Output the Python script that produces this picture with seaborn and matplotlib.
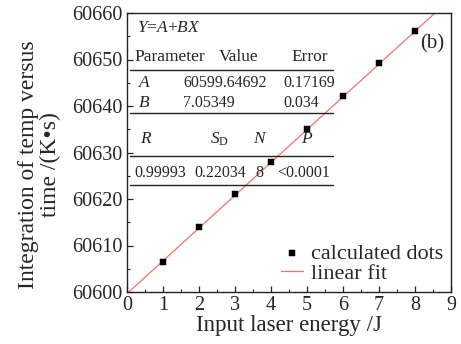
import numpy as np
import pandas as pd
import matplotlib
matplotlib.use('Agg')
import matplotlib.pyplot as plt
import seaborn as sns
from matplotlib.ticker import MultipleLocator

# データ
energy = [1, 2, 3, 4, 5, 6, 7, 8]
integral = [60606.5, 60614.0, 60621.0, 60628.0, 60635.0, 60642.2, 60649.2, 60656.2]
fit_a = 60599.64692
fit_b = 7.05349
fit_x = [0, 9]

param_rows = [('A', '60599.64692', '0.17169'), ('B', '7.05349', '0.034')]
stat_names = ['R', 'S', 'N', 'P']
stat_values = ['0.99993', '0.22034', '8', '<0.0001']

sns.set_theme(style='ticks')
plt.rcParams['font.family'] = ['Liberation Serif', 'DejaVu Serif']
plt.rcParams['mathtext.fontset'] = 'custom'
plt.rcParams['mathtext.it'] = 'Liberation Serif:italic'
plt.rcParams['mathtext.rm'] = 'Liberation Serif'

df = pd.DataFrame({'x': energy, 'y': integral})
fit_df = pd.DataFrame({'x': fit_x, 'y': [fit_a + fit_b * v for v in fit_x]})

fig = plt.figure(figsize=(4.61, 3.44), dpi=100)
ax = fig.add_axes([127 / 461, 1 - 292 / 344, 324 / 461, 279 / 344])

sns.lineplot(data=fit_df, x='x', y='y', ax=ax, color='#f07565', linewidth=0.9,
             label='linear fit')
sns.scatterplot(data=df, x='x', y='y', ax=ax, marker='s', color='black', s=16,
                edgecolor='black', label='calculated dots', zorder=3)

ax.set_xlim(0, 9)
ax.set_ylim(60600, 60660)
ax.xaxis.set_major_locator(MultipleLocator(1))
ax.xaxis.set_minor_locator(MultipleLocator(0.5))
ax.yaxis.set_major_locator(MultipleLocator(10))
ax.yaxis.set_minor_locator(MultipleLocator(5))
ax.tick_params(which='both', direction='in', labelsize=14.5, color='#222222', pad=3)
ax.tick_params(which='major', length=4, width=0.9)
ax.tick_params(which='minor', length=2.5, width=0.8)
for s in ax.spines.values():
    s.set_linewidth(1.0)
    s.set_color('#222222')

ax.set_xlabel('Input laser energy /J', fontsize=16.5, labelpad=0)
ax.set_ylabel('Integration of temp versus\ntime /(K\u2022s)', fontsize=17,
              linespacing=1.0)
ax.yaxis.set_label_coords(-0.205, 0.455)

handles, labels = ax.get_legend_handles_labels()
ax.legend(handles[::-1], labels[::-1], loc='lower right', frameon=False,
          fontsize=16, handlelength=1.0, handletextpad=0.35,
          borderaxespad=0.1, borderpad=0.25, labelspacing=0.0)

# 統計テーブル
def px(x, y):
    return ((x - 127) / 324, (292 - y) / 279)

tf = dict(transform=ax.transAxes, fontsize=12.5, va='center')
nf = dict(transform=ax.transAxes, fontsize=11.5, va='center')
ax.text(*px(137, 28), '$Y$=$A$+$BX$', ha='left', **tf)
ax.text(*px(134, 57), 'Parameter', ha='left', **tf)
ax.text(*px(239, 57), 'Value', ha='center', **tf)
ax.text(*px(310, 57), 'Error', ha='center', **tf)
for i, (name, val, err) in enumerate(param_rows):
    y = 83 + i * 20
    ax.text(*px(138, y), '$' + name + '$', ha='left', **tf)
    ax.text(*px(183, y), val, ha='left', **nf)
    ax.text(*px(283, y), err, ha='left', **nf)
stat_x = [146, 219, 260, 307]
for xx, name in zip(stat_x, stat_names):
    lbl = '$S_{\\mathrm{D}}$' if name == 'S' else '$' + name + '$'
    ax.text(*px(xx, 139), lbl, ha='center', **tf)
val_x = [160, 220, 259, 304]
for xx, v in zip(val_x, stat_values):
    ax.text(*px(xx, 173), v, ha='center', **nf)
for y in [70, 113, 156, 185]:
    x0, yy = px(130, y)
    x1, _ = px(333, y)
    ax.plot([x0, x1], [yy, yy], transform=ax.transAxes, color='#222222',
            linewidth=1.0)

ax.text(*px(420, 44), '(b)', ha='left', transform=ax.transAxes, fontsize=15,
        va='center')

fig.savefig('out.png', dpi=100)
